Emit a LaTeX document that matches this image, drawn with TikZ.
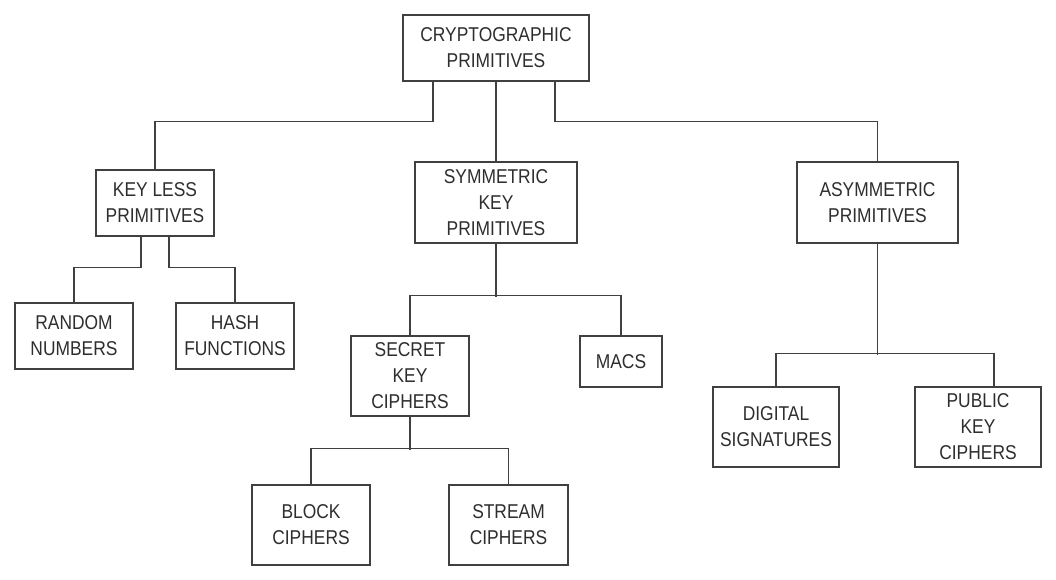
\documentclass[tikz,border=0pt]{standalone}
\usepackage{fontspec}
\setmainfont{Liberation Sans}[FakeStretch=0.87]
\begin{document}
\begin{tikzpicture}[x=1pt,y=-1pt,
  box/.style={draw=black!75, line width=1.3pt, inner sep=0pt, align=center,
    text=black!82, font=\fontsize{20}{26}\selectfont, fill=white},
  link/.style={draw=black!75, line width=1.3pt}]
\path[use as bounding box, fill=white] (0,0) rectangle (1056,580);
\node[box, minimum width=186, minimum height=66] (root) at (496,48) {CRYPTOGRAPHIC\\PRIMITIVES};
\node[box, minimum width=118, minimum height=66] (keyless) at (155,203) {KEY LESS\\PRIMITIVES};
\node[box, minimum width=162, minimum height=81] (sym) at (496,202.5) {SYMMETRIC\\KEY\\PRIMITIVES};
\node[box, minimum width=161, minimum height=81] (asym) at (877.5,202.5) {ASYMMETRIC\\PRIMITIVES};
\node[box, minimum width=118, minimum height=66] (random) at (74,336) {RANDOM\\NUMBERS};
\node[box, minimum width=118, minimum height=66] (hash) at (235,336) {HASH\\FUNCTIONS};
\node[box, minimum width=118, minimum height=80] (secret) at (410,376) {SECRET\\KEY\\CIPHERS};
\node[box, minimum width=82, minimum height=51] (macs) at (621,361.5) {MACS};
\node[box, minimum width=126, minimum height=80] (digital) at (776,427) {DIGITAL\\SIGNATURES};
\node[box, minimum width=126, minimum height=80] (public) at (978,427) {PUBLIC\\KEY\\CIPHERS};
\node[box, minimum width=118, minimum height=80] (block) at (311,525) {BLOCK\\CIPHERS};
\node[box, minimum width=119, minimum height=80] (stream) at (508.5,525) {STREAM\\CIPHERS};
% connectors
\draw[link] ([xshift=-63pt]root.south) -- ++(0,40) -| (keyless.north);
\draw[link] (root.south) -- (sym.north);
\draw[link] ([xshift=59pt]root.south) -- ++(0,40) -| (asym.north);
\draw[link] ([xshift=-14pt]keyless.south) -- ++(0,31) -| (random.north);
\draw[link] ([xshift=14pt]keyless.south) -- ++(0,31) -| (hash.north);
\draw[link] (sym.south) -- ++(0,53);
\draw[link] (secret.north) -- ++(0,-40) -| (macs.north);
\draw[link] (secret.south) -- ++(0,33);
\draw[link] (block.north) -- ++(0,-36) -| (stream.north);
\draw[link] (asym.south) -- ++(0,111);
\draw[link] (digital.north) -- ++(0,-33) -| ([xshift=16pt]public.north);
\end{tikzpicture}
\end{document}
